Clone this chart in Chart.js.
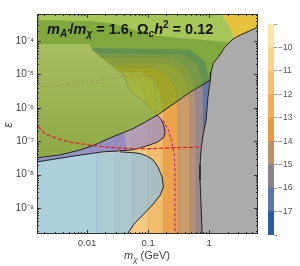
<!DOCTYPE html>
<html>
<head>
<meta charset="utf-8">
<script src="https://cdn.jsdelivr.net/npm/chart.js@4.4.1/dist/chart.umd.min.js"></script>
<style>
  body { margin: 0; background: #fff; }
  #wrap { position: relative; width: 300px; height: 266px; }
  canvas { position: absolute; top: 0; }
</style>
</head>
<body>
<div id="wrap">
  <canvas id="main" width="300" height="266" style="left:0"></canvas>
  <canvas id="bar" width="45" height="266" style="left:255px"></canvas>
</div>
<script>
// all region points are [log10 m_X (GeV), log10 epsilon]
const xRange = [-2.82, 0.80];
const yRange = [-9.78, -3.19];
const xTickVals = [0.01, 0.1, 1];
const xTickLabels = ['0.01', '0.1', '1'];
const yTickVals = [1e-9, 1e-8, 1e-7, 1e-6, 1e-5, 1e-4];
const yTickLabels = ['10⁻⁹', '10⁻⁸', '10⁻⁷', '10⁻⁶', '10⁻⁵', '10⁻⁴'];

// colour bar
const cbLevels = [-18, -17, -16, -15, -14, -13, -12, -11, -10, -9];
const cbColors = ['#2b5d9c', '#5a77aa', '#8b8289', '#b99168', '#e99a45',
                  '#f0ad5c', '#f4c070', '#f8d38c', '#fce4a8'];

// contour bands of the background (L-shaped edges, low m_X -> high)
const bandEdges = [
  [[-1.84,-10],[-1.84,-6.96],[-1.89,-6.07],[-2.03,-5.53],[-3,-5.35]],
  [[-1.54,-10],[-1.54,-6.96],[-1.59,-6.01],[-1.74,-5.47],[-3,-5.23]],
  [[-1.26,-10],[-1.26,-6.66],[-1.30,-5.92],[-1.43,-5.41],[-1.62,-5.17],[-3,-5.08]],
  [[-1.00,-10],[-1.00,-6.37],[-1.03,-5.77],[-1.13,-5.32],[-1.33,-5.08],[-3,-4.99]],
  [[-0.75,-10],[-0.75,-6.22],[-0.79,-5.62],[-0.89,-5.17],[-1.10,-4.93],[-3,-4.87]],
  [[-0.51,-10],[-0.51,-6.07],[-0.54,-5.47],[-0.67,-5.02],[-0.89,-4.81],[-3,-4.75]],
  [[-0.31,-10],[-0.31,-6.07],[-0.34,-5.32],[-0.48,-4.87],[-0.72,-4.66],[-3,-4.63]],
  [[-0.21,-10],[-0.21,-6.07],[-0.23,-5.32],[-0.34,-4.81],[-0.61,-4.51],[-3,-4.48]],
  [[-0.10,-10],[-0.10,-5.77],[-0.10,-5.17],[-0.20,-4.69],[-0.44,-4.39],[-3,-4.33]],
  [[-0.02,-10],[-0.02,-5.77],[0.00,-5.17],[-0.07,-4.63],[-0.31,-4.27],[-3,-4.18]]
];
const bandColors = ['#fce8b4', '#fadea0', '#f8d491', '#f6c880', '#f3bd6e', '#eda34d',
                    '#c99a6a', '#b4917a', '#968890', '#6279ab', '#a8a67c'];
const topPaleEdge = [[-3,-3.37],[-1.95,-3.40],[-1.54,-3.49],[-1.21,-3.67],[-0.97,-3.82],
                     [-0.48,-3.91],[-0.07,-3.97],[0.26,-4.03],[1,-4.03]];

// region boundaries
const greenEdge = [[-3,-7.53],[-2.82,-7.50],[-2.44,-7.41],[-2.11,-7.26],[-1.87,-7.11],
                   [-1.62,-6.90],[-1.25,-6.63],[-0.85,-6.22],[-0.59,-5.89],[-0.31,-5.53],[0.02,-5.17]];
const oliveEdge = [[-1.95,-4.09],[-1.90,-4.27],[-1.79,-4.45],[-1.66,-4.63],[-1.43,-4.96],
                   [-1.36,-5.17],[-1.33,-5.38],[-1.21,-5.62],[-1.05,-5.83],[-0.85,-6.22]];
const goldEdge = [[0.20,-2.98],[0.21,-3.19],[0.31,-3.49],[0.38,-3.73],[0.41,-3.97],[0.48,-4.27]];
const purpleEdge = [[-0.85,-6.22],[-0.80,-6.31],[-0.75,-6.49],[-0.72,-6.72],[-0.75,-6.90],
                    [-0.84,-7.02],[-0.97,-7.11],[-1.13,-7.20],[-1.26,-7.26],[-1.46,-7.29],
                    [-1.75,-7.32],[-2.31,-7.47],[-2.82,-7.62],[-3,-7.68]];
const lavenderCut = [[-1.39,-6.74],[-1.34,-7.29]];
const blueEdge = [[-3,-7.68],[-2.82,-7.62],[-2.31,-7.47],[-1.75,-7.34],[-1.46,-7.32],
                  [-1.26,-7.34],[-1.13,-7.37],[-1.02,-7.44],[-0.92,-7.56],[-0.84,-7.77],
                  [-0.77,-8.07],[-0.75,-8.37],[-0.80,-8.61],[-0.90,-8.85],[-1.07,-9.18],
                  [-1.23,-9.48],[-1.34,-9.78],[-1.39,-10]];
const greyEdge = [[0.80,-3.58],[0.62,-3.73],[0.51,-3.82],[0.39,-3.94],[0.26,-4.18],[0.15,-4.48],
                  [0.07,-4.66],[0.03,-4.93],[0.02,-5.17],[-0.02,-5.68],[-0.05,-6.37],[-0.10,-6.81],
                  [-0.13,-7.20],[-0.15,-7.71],[-0.15,-8.16],[-0.13,-9.06],[-0.11,-10]];

// curves
const redCurve = [[-2.87,-6.43],[-2.82,-6.51],[-2.75,-6.66],[-2.69,-6.78],[-2.52,-6.90],[-2.31,-7.02],
                  [-1.87,-7.14],[-1.54,-7.20],[-1.05,-7.23],[-0.64,-7.20],[-0.11,-7.17]];
const magentaCurve = [[-0.56,-10],[-0.56,-8.01],[-0.57,-7.41],[-0.61,-7.02],[-0.67,-6.66],
                      [-0.75,-6.40],[-0.84,-6.25]];
const faintCurve = [[-3,-5.41],[-2.44,-5.32],[-1.79,-5.17],[-1.41,-5.05],[-1.05,-5.02],
                    [-0.93,-5.08],[-0.89,-5.32],[-0.87,-5.77],[-0.85,-6.22]];

const toXY = pts => pts.map(([a, b]) => ({ x: 10 ** a, y: 10 ** b }));
const layers = [];
function addArea(pts, color, edge) {
  layers.push({ data: toXY(pts), showLine: true, fill: 'shape', backgroundColor: color,
    borderColor: edge || 'rgba(0,0,0,0)', borderWidth: edge ? 0.6 : 0, pointRadius: 0, tension: 0 });
}
function addLine(pts, color, width, dash) {
  layers.push({ data: toXY(pts), showLine: true, fill: false, borderColor: color,
    borderWidth: width, borderDash: dash || [], pointRadius: 0, tension: 0 });
}

// darker olive towards the lower edge of the upper-left green area
function leftGreen(c) {
  const a = c.chart.chartArea;
  if (!a) return '#a0b85a';
  const g = c.chart.ctx.createLinearGradient(0, a.top + 30, 0, a.top + 145);
  g.addColorStop(0, '#a6bd5f');
  g.addColorStop(1, '#8fa947');
  return g;
}

// bottom to top
addArea([[-3,-10],[1,-10],[1,-3],[-3,-3]], bandColors[0]);
bandEdges.forEach((e, i) => addArea(e.concat([[-3,-3],[1,-3],[1,-10]]), bandColors[i + 1], 'rgba(80,50,30,0.18)'));
addArea(topPaleEdge.concat([[1,-3],[-3,-3]]), bandColors[0]);
addArea(greenEdge.concat(goldEdge.slice().reverse(), [[-3,-2.98]]), 'rgba(96,168,12,0.55)');
addArea([[-3,-4.09]].concat(oliveEdge, greenEdge.slice(0, 7).reverse()), leftGreen);
addArea(goldEdge.concat([[1,-4.27],[1,-2.98]]), '#e6c23c');
addArea(greenEdge.slice(0, 8).concat(purpleEdge.slice(1)), 'rgba(136,128,208,0.6)');
addArea(greenEdge.slice(0, 6).concat(lavenderCut, purpleEdge.slice(10)), 'rgba(80,90,200,0.3)');
addArea(blueEdge.concat([[-3,-10]]), 'rgba(120,190,245,0.6)');
addArea([[1,-3.49]].concat(greyEdge, [[1,-10]]), '#ababab');
addLine(faintCurve, 'rgba(150,110,100,0.55)', 0.8, [3, 2]);
addLine(oliveEdge, 'rgba(110,130,40,0.7)', 0.8);
addLine(greenEdge, '#222', 1);
addLine(purpleEdge, '#222', 1);
addLine(blueEdge.slice(4), '#222', 1);
addLine(greyEdge, '#222', 1);
addLine(redCurve, '#e8202a', 1.3, [4, 2]);
addLine(magentaCurve, '#b0309a', 1.2, [3, 2]);
layers.forEach((d, i) => { d.order = layers.length - i; });

const family = '"Liberation Sans", Arial, sans-serif';

function drawRuns(ctx, runs, x, y) {
  for (const [t, style, size, dy] of runs) {
    ctx.font = style + ' ' + size + 'px ' + family;
    ctx.fillText(t, x, y + dy);
    x += ctx.measureText(t).width;
  }
  return x;
}

const decor = {
  id: 'decor',
  afterDatasetsDraw(chart) {
    const { ctx, chartArea: a, scales } = chart;
    ctx.save();
    // ticks inside the frame
    ctx.strokeStyle = '#333';
    ctx.lineWidth = 1;
    for (let d = -11; d <= 1; d++) {
      for (let k = 1; k < 10; k++) {
        const len = k === 1 ? 4 : 2;
        const yv = k * 10 ** d;
        const py = Math.round(scales.y.getPixelForValue(yv)) + 0.5;
        if (py > a.top && py < a.bottom) {
          ctx.beginPath();
          ctx.moveTo(a.left, py); ctx.lineTo(a.left + len, py);
          ctx.moveTo(a.right, py); ctx.lineTo(a.right - len, py);
          ctx.stroke();
        }
        const px = Math.round(scales.x.getPixelForValue(yv)) + 0.5;
        if (px > a.left && px < a.right) {
          ctx.beginPath();
          ctx.moveTo(px, a.bottom); ctx.lineTo(px, a.bottom - len);
          ctx.moveTo(px, a.top); ctx.lineTo(px, a.top + len);
          ctx.stroke();
        }
      }
    }
    ctx.strokeRect(a.left + 0.5, a.top + 0.5, a.right - a.left - 1, a.bottom - a.top - 1);

    // heading inside the plot
    ctx.fillStyle = '#111';
    ctx.textBaseline = 'alphabetic';
    drawRuns(ctx, [
      ['m', 'bold italic', 14.5, 0], ['A′', 'bold italic', 10, 3], ['/', 'bold', 14.5, 0],
      ['m', 'bold italic', 14.5, 0], ['χ', 'bold italic', 10, 3], [' = 1.6, ', 'bold', 14.5, 0],
      ['Ω', 'bold', 14.5, 0], ['c', 'bold italic', 10, 3], ['h', 'bold italic', 14.5, 0],
      ['2', 'bold', 10, -6], [' = 0.12', 'bold', 14.5, 0]
    ], 47, 34);

    // axis titles
    ctx.fillStyle = '#444';
    const xt = [['m', 'italic', 11, 0], ['χ', 'italic', 8, 3], [' (GeV)', '', 11, 0]];
    let w = 0;
    for (const [t, s, z] of xt) { ctx.font = s + ' ' + z + 'px ' + family; w += ctx.measureText(t).width; }
    drawRuns(ctx, xt, 147 - w / 2, 259);
    ctx.translate(12, 125);
    ctx.rotate(-Math.PI / 2);
    ctx.font = 'italic 12px ' + family;
    ctx.textAlign = 'center';
    ctx.fillText('ε', 0, 0);
    ctx.restore();
  }
};

new Chart(document.getElementById('main'), {
  type: 'scatter',
  data: { datasets: layers },
  options: {
    responsive: false,
    animation: false,
    devicePixelRatio: 1,
    layout: { padding: { left: 0, top: 14, right: 42, bottom: 0 } },
    plugins: { legend: { display: false }, tooltip: { enabled: false } },
    scales: {
      x: {
        type: 'logarithmic', min: 10 ** xRange[0], max: 10 ** xRange[1],
        grid: { display: false, drawTicks: false }, border: { display: false },
        afterFit: s => { s.height = 32; },
        afterBuildTicks: s => { s.ticks = xTickVals.map(v => ({ value: v })); },
        ticks: { autoSkip: false, maxRotation: 0, padding: 4, color: '#444',
          font: { family: family, size: 9.5 }, callback: (v, i) => xTickLabels[i] }
      },
      y: {
        type: 'logarithmic', min: 10 ** yRange[0], max: 10 ** yRange[1],
        grid: { display: false, drawTicks: false }, border: { display: false },
        afterFit: s => { s.width = 37; },
        afterBuildTicks: s => { s.ticks = yTickVals.map(v => ({ value: v })); },
        ticks: { autoSkip: false, padding: 3, color: '#444',
          font: { family: family, size: 10 }, callback: (v, i) => yTickLabels[i] }
      }
    }
  },
  plugins: [decor]
});

new Chart(document.getElementById('bar'), {
  type: 'bar',
  data: {
    labels: [''],
    datasets: cbColors.map((c, i) => ({
      data: [[cbLevels[i], cbLevels[i + 1]]], backgroundColor: c, grouped: false,
      barPercentage: 1, categoryPercentage: 1, borderWidth: 0
    }))
  },
  options: {
    responsive: false,
    animation: false,
    devicePixelRatio: 1,
    layout: { padding: { left: 13, top: 24, bottom: 31, right: 0 } },
    plugins: { legend: { display: false }, tooltip: { enabled: false } },
    scales: {
      x: { display: false },
      y: {
        position: 'right', min: -18, max: -9,
        afterFit: s => { s.width = 26; },
        grid: { drawOnChartArea: false, tickLength: 3, color: '#999' },
        border: { display: false },
        ticks: { stepSize: 1, padding: 1, color: '#555', font: { family: family, size: 8.5 },
          callback: v => (v <= -10 && v >= -17) ? '−' + Math.abs(v) : '' }
      }
    }
  }
});
</script>
</body>
</html>
